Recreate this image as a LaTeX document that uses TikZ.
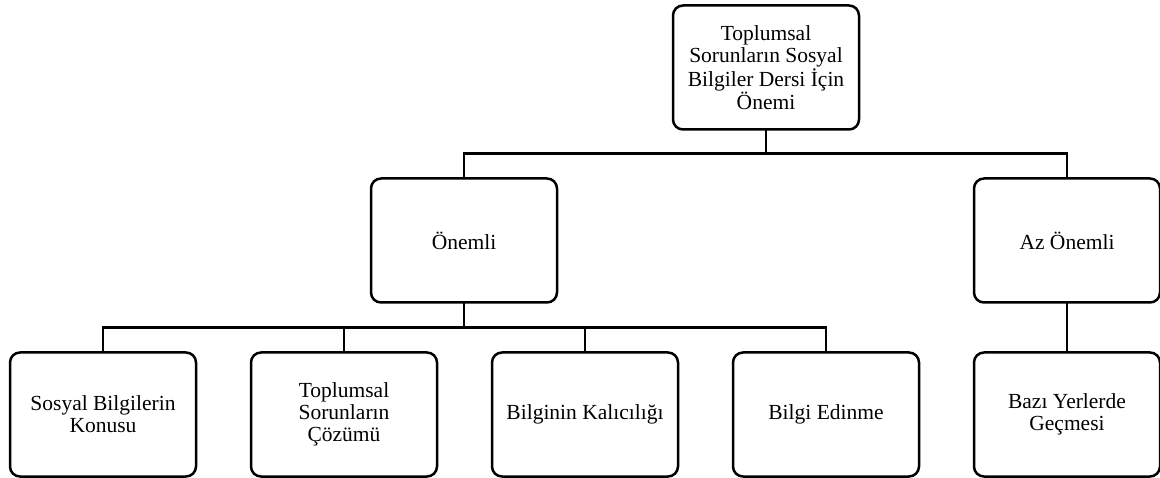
\documentclass[tikz,border=0pt]{standalone}
\usepackage{fontspec}
\setmainfont{Liberation Serif}
\usepackage{tikz}
\usetikzlibrary{positioning}

\tikzset{
  box/.style={draw, line width=2.5pt, rounded corners=10pt, outer sep=0pt, minimum width=186pt, minimum height=124pt, align=center, inner sep=2pt, font=\fontsize{21.5}{22}\selectfont},
  link/.style={line width=2.5pt}
}

\begin{document}
\begin{tikzpicture}[x=1pt, y=1pt, node distance=50pt and 55pt]
\useasboundingbox (0,0) rectangle (1160,477);

\node[box] (konu) at (103,62.5) {Sosyal Bilgilerin\\Konusu};
\node[box, right=of konu] (cozum) {Toplumsal\\Sorunların\\Çözümü};
\node[box, right=of cozum] (kalici) {Bilginin Kalıcılığı};
\node[box, right=of kalici] (edinme) {Bilgi Edinme};
\node[box, right=of edinme] (yerler) {Bazı Yerlerde\\Geçmesi};

\node[box] (onemli) at (464,236.5) {Önemli};
\node[box, above=of yerler] (azonemli) {Az Önemli};
\node[box] (onem) at (766,409.5) {Toplumsal\\Sorunların Sosyal\\Bilgiler Dersi İçin\\Önemi};

% top level
\draw[link] (onem.south) -- ++(0,-25);
\draw[link] (onemli.north) -- ++(0,25) -| (azonemli.north);

% bottom level
\draw[link] (onemli.south) -- ++(0,-25);
\draw[link] (konu.north) -- ++(0,25) -| (edinme.north);
\draw[link] (cozum.north) -- ++(0,25);
\draw[link] (kalici.north) -- ++(0,25);
\draw[link] (azonemli) -- (yerler);
\end{tikzpicture}
\end{document}
